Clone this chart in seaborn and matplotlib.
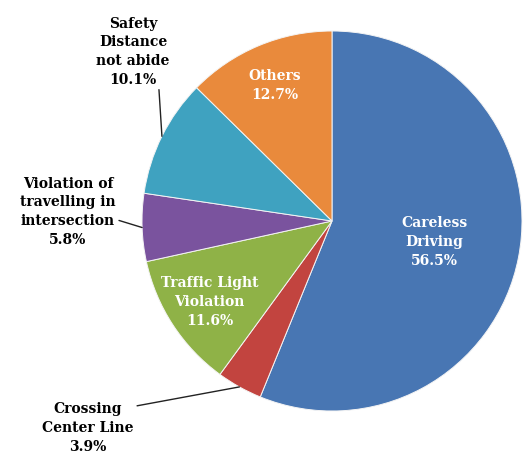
import numpy as np
import matplotlib
matplotlib.use("Agg")
import matplotlib.pyplot as plt
import seaborn as sns

# causes of accidents (share in %), clockwise from 12 o'clock
causes = ["Careless\nDriving", "Crossing\nCenter Line", "Traffic Light\nViolation",
          "Violation of\ntravelling in\nintersection", "Safety\nDistance\nnot abide", "Others"]
shares = [56.5, 3.9, 11.6, 5.8, 10.1, 12.7]
colors = ["#4876B3", "#C2443F", "#8FB247", "#7A539E", "#3FA2C0", "#E98A3C"]

sns.set_theme(style="white")
plt.rcParams['font.family'] = ['DejaVu Serif', 'DejaVu Sans']

fig = plt.figure(figsize=(5.24, 4.56), dpi=100)
ax = fig.add_axes([0, 0, 1, 1])

wedges, _ = ax.pie(shares, colors=colors, startangle=90, counterclock=False,
                   wedgeprops=dict(edgecolor="#f4f4f4", linewidth=0.7))

# pie centre at (332, 222) px, radius 190 px
ax.set_xlim(-332 / 190, (524 - 332) / 190)
ax.set_ylim(-(456 - 222) / 190, 222 / 190)
ax.set_aspect("equal")
ax.axis("off")


def mid_point(w, r):
    a = np.deg2rad((w.theta1 + w.theta2) / 2)
    return r * np.cos(a), r * np.sin(a)


labels = [f"{c}\n{s}%" for c, s in zip(causes, shares)]
txt = dict(fontsize=10, fontweight="bold", ha="center", va="center",
           multialignment="center", linespacing=1.45)

# labels inside the slices
inside = {0: 0.55, 2: 0.77, 5: 0.78}
for i, r in inside.items():
    x, y = mid_point(wedges[i], r)
    ax.text(x, y, labels[i], color="white", **txt)

# labels outside with leader lines: (text position, relpos)
outside = {
    4: ((-1.047, 0.895), (0.85, 0.0)),
    3: ((-1.39, 0.053), (1.0, 0.38)),
    1: ((-1.284, -1.084), (0.89, 0.86)),
}
for i, (pos, rel) in outside.items():
    ax.annotate(labels[i], xy=mid_point(wedges[i], 1.0), xytext=pos, color="black",
                arrowprops=dict(arrowstyle="-", color="#222222", lw=1,
                                shrinkA=0, shrinkB=0, relpos=rel),
                **txt)

fig.savefig("out.png", dpi=100)
